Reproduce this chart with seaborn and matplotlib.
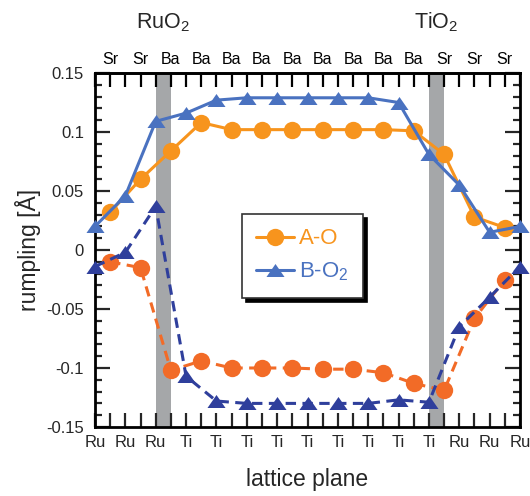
import numpy as np
import matplotlib
matplotlib.use("Agg")
import matplotlib.pyplot as plt
import matplotlib.transforms as mtransforms
import seaborn as sns

# Lattice-plane labels: B-site layers on the bottom axis, A-site layers on top
b_site_labels = ["Ru", "Ru", "Ru", "Ti", "Ti", "Ti", "Ti", "Ti", "Ti", "Ti", "Ti", "Ti", "Ru", "Ru", "Ru"]
a_site_labels = ["Sr", "Sr", "Ba", "Ba", "Ba", "Ba", "Ba", "Ba", "Ba", "Ba", "Ba", "Sr", "Sr", "Sr"]

# Rumpling (Å) of the A-O and B-O2 planes, upper and lower branches
ao_upper = [0.032, 0.060, 0.084, 0.108, 0.102, 0.102, 0.102, 0.102, 0.102, 0.102, 0.101, 0.081, 0.028, 0.019]
bo2_upper = [0.020, 0.046, 0.109, 0.116, 0.127, 0.129, 0.129, 0.129, 0.129, 0.129, 0.125, 0.081, 0.055, 0.015, 0.020]
ao_lower = [-0.010, -0.015, -0.102, -0.094, -0.100, -0.100, -0.100, -0.101, -0.101, -0.104, -0.113, -0.119, -0.058, -0.025]
bo2_lower = [-0.014, -0.002, 0.037, -0.107, -0.128, -0.130, -0.130, -0.130, -0.130, -0.130, -0.127, -0.129, -0.065, -0.040, -0.014]

# Interface planes (B-site index where the shaded band starts)
interfaces = [2, 11]
interface_names = ["RuO$_2$", "TiO$_2$"]

y_ticks = [-0.15, -0.1, -0.05, 0, 0.05, 0.1, 0.15]
y_tick_labels = ["-0.15", "-0.1", "-0.05", "0", "0.05", "0.1", "0.15"]

sns.set_theme(style="white")
plt.rcParams["font.family"] = ["Liberation Sans", "DejaVu Sans"]
plt.rcParams["mathtext.default"] = "regular"
plt.rcParams["axes.unicode_minus"] = False

fig = plt.figure(figsize=(5.30, 4.96), dpi=100)
ax = fig.add_axes([95 / 530, 1 - 427 / 496, 425 / 530, 354 / 496])

b_pos = np.arange(len(b_site_labels), dtype=float)
a_pos = np.arange(len(a_site_labels), dtype=float) + 0.5

c_ao_up = "#f7941d"
c_bo_up = "#4a72c0"
c_ao_lo = "#f26b27"
c_bo_lo = "#2f3f9c"

band = "#a5a7a9"
for b in interfaces:
    ax.axvspan(b, b + 0.5, color=band, lw=0, zorder=0)

tri = [(-1, -0.72), (1, -0.72), (0, 0.72)]
lw = 2.2
dash = (0, (3.4, 2.1))

sns.lineplot(x=a_pos, y=ao_upper, ax=ax, color=c_ao_up, marker="o", markersize=12.5,
             markeredgewidth=0, linewidth=lw, clip_on=False, label="A-O", zorder=3)
sns.lineplot(x=b_pos, y=bo2_upper, ax=ax, color=c_bo_up, marker=tri, markersize=13,
             markeredgewidth=0, linewidth=lw, clip_on=False, label="B-O$_2$", zorder=3)
sns.lineplot(x=a_pos, y=ao_lower, ax=ax, color=c_ao_lo, marker="o", markersize=12.5,
             markeredgewidth=0, linewidth=lw, linestyle=dash, clip_on=False, zorder=3)
sns.lineplot(x=b_pos, y=bo2_lower, ax=ax, color=c_bo_lo, marker=tri, markersize=13,
             markeredgewidth=0, linewidth=lw, linestyle=dash, clip_on=False, zorder=3)

ax.set_xlim(0, len(b_site_labels) - 1)
ax.set_ylim(-0.15, 0.15)

# Bottom axis: ticks at every half plane, labels on the B-site planes
half_ticks = np.arange(0, len(b_site_labels) - 1 + 0.01, 0.5)
bottom_tick_labels = []
for t in half_ticks:
    bottom_tick_labels.append(b_site_labels[int(t)] if float(t).is_integer() else "")
ax.set_xticks(half_ticks)
ax.set_xticklabels(bottom_tick_labels, fontsize=12)

# Top axis: same ticks, labels on the A-site planes
top = ax.secondary_xaxis("top")
top_tick_labels = []
for t in half_ticks:
    top_tick_labels.append("" if float(t).is_integer() else a_site_labels[int(t - 0.5)])
top.set_xticks(half_ticks)
top.set_xticklabels(top_tick_labels, fontsize=11.5)
top.tick_params(axis="x", direction="in", length=10, width=1.6, pad=4, colors="black")
top.spines["top"].set_linewidth(2.0)

ax.set_yticks(y_ticks)
ax.set_yticklabels(y_tick_labels, fontsize=12)
ax.set_yticks(np.arange(-0.15, 0.1501, 0.01), minor=True)

ax.tick_params(axis="x", which="major", direction="in", length=10, width=1.6, pad=6, bottom=True)
ax.tick_params(axis="y", which="major", direction="in", length=11, width=1.6, pad=8, left=True, right=True)
ax.tick_params(axis="y", which="minor", direction="in", length=5, width=1.6, left=True, right=True)

for s in ax.spines.values():
    s.set_linewidth(2.0)
    s.set_color("black")

ax.set_xlabel("lattice plane", fontsize=16.5, labelpad=13)
ax.set_ylabel("rumpling [Å]", fontsize=16.5, labelpad=4)

# Interface names above the shaded bands
trans = mtransforms.blended_transform_factory(ax.transData, fig.transFigure)
for b, name in zip(interfaces, interface_names):
    fig.text(b + 0.25, 1 - 28 / 496, name, transform=trans, ha="center", va="baseline", fontsize=15.5)

leg = ax.legend(loc="upper left", bbox_to_anchor=((242 - 95) / 425, (427 - 214) / 354),
                borderaxespad=0, fontsize=16, handlelength=1.7, handletextpad=0.2,
                labelcolor="linecolor", frameon=True, fancybox=False,
                shadow={"facecolor": "black", "edgecolor": "black", "alpha": 1, "ox": 3, "oy": -3},
                borderpad=0.65, labelspacing=0.5)
leg.get_frame().set_edgecolor("#333333")
leg.get_frame().set_linewidth(1.2)

fig.savefig("out.png", dpi=100)
